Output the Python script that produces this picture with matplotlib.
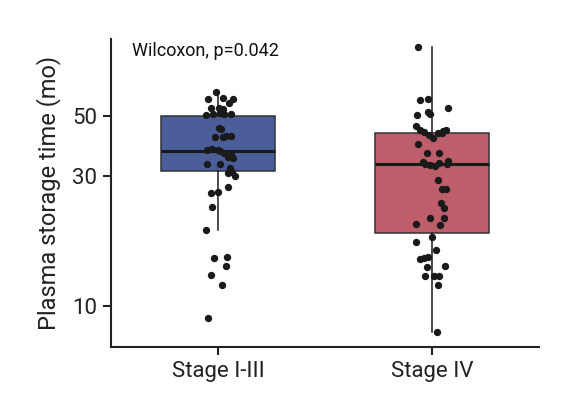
import numpy as np
import matplotlib
matplotlib.use("Agg")
import matplotlib.pyplot as plt
from matplotlib.ticker import FixedLocator, NullLocator

plt.rcParams['font.family'] = ['Roboto', 'DejaVu Sans']

# data
groups = ['Stage I-III', 'Stage IV']
colors = ['#4B5E9A', '#BD5E6A']

# box statistics (months)
q1 = [31.4, 18.5]
med = [37.2, 33.3]
q3 = [49.9, 43.3]
whislo = [19.1, 8.0]
whishi = [61.2, 89.6]

# individual samples and their horizontal jitter (category units)
stage13 = [61.2, 57.7, 58.2, 55.7, 57.7, 53.5, 53.5, 53.0, 50.4, 50.8, 51.3, 50.8, 50.8,
           45.1, 44.8, 41.8, 41.8, 42.2, 42.0,
           37.5, 37.8, 37.5, 37.1, 36.5, 35.3, 35.0, 35.9,
           33.3, 33.3, 32.2, 31.1, 30.1, 30.8,
           27.4, 26.0, 26.2, 23.1, 19.0,
           15.0, 15.1, 14.0, 13.0, 11.9, 9.0]
jit13 = [-0.01, -0.047, 0.023, 0.051, 0.07, -0.033, 0.005, 0.023, -0.056, -0.023, 0.009, 0.028, 0.061,
         0.005, 0.014, -0.014, 0.023, 0.061, 0.037,
         -0.051, -0.028, 0.0, 0.009, 0.028, 0.047, 0.07, 0.061,
         -0.051, 0.009, 0.056, 0.065, 0.079, 0.047,
         0.047, -0.033, 0.0, -0.028, -0.056,
         -0.019, 0.042, 0.037, -0.033, 0.019, -0.047]

stage4 = [89.6, 57.2, 57.7, 53.5, 50.4, 51.7, 50.8,
          45.9, 44.4, 43.6, 42.5, 41.5, 43.3, 43.3, 44.4, 44.0,
          39.4, 36.5, 36.5,
          33.8, 33.3, 33.0, 32.7, 33.6, 34.1, 33.3,
          29.0, 26.9, 26.9, 23.9, 22.9, 21.1, 21.1, 20.0, 19.9,
          17.9, 17.2, 16.1, 14.9, 15.0, 15.1, 13.9, 14.0, 12.9, 12.9, 12.9, 11.9, 8.0]
jit4 = [-0.065, -0.056, -0.019, 0.075, -0.07, -0.019, -0.009,
        -0.075, -0.056, -0.037, -0.014, 0.005, 0.028, 0.047, 0.065, 0.051,
        -0.065, -0.023, 0.033,
        -0.042, -0.033, -0.009, 0.014, 0.033, 0.075, 0.07,
        0.028, 0.047, 0.065, 0.042, 0.056, -0.009, 0.056, -0.075, 0.037,
        0.0, -0.075, 0.019, -0.056, -0.037, -0.019, -0.023, 0.061, -0.033, 0.009, 0.033, 0.028, 0.023]

fig = plt.figure(figsize=(5.74, 4.12), dpi=100)
ax = fig.add_axes([0.1934, 0.1578, 0.7456, 0.7468])

stats = []
for i, g in enumerate(groups):
    stats.append(dict(label=g, q1=q1[i], med=med[i], q3=q3[i],
                      whislo=whislo[i], whishi=whishi[i], fliers=[]))

bp = ax.bxp(stats, positions=[1, 2], widths=0.53, patch_artist=True,
            showcaps=False, showfliers=False,
            boxprops=dict(edgecolor='#333333', linewidth=1.1),
            whiskerprops=dict(color='#1a1a1a', linewidth=1.1),
            medianprops=dict(color='#1a1a1a', linewidth=2.2))
for patch, c in zip(bp['boxes'], colors):
    patch.set_facecolor(c)

for pos, vals, jit in [(1, stage13, jit13), (2, stage4, jit4)]:
    ax.scatter(pos + np.array(jit), vals, s=28, color='#1a1a1a', zorder=3, linewidths=0)

ax.set_yscale('log')
ax.set_ylim(7.07, 95.6)
ax.set_xlim(0.5, 2.5)
ax.yaxis.set_major_locator(FixedLocator([10, 30, 50]))
ax.yaxis.set_minor_locator(NullLocator())
ax.set_yticklabels(['10', '30', '50'])
ax.set_xticks([1, 2])
ax.set_xticklabels(groups)

for side in ['top', 'right']:
    ax.spines[side].set_visible(False)
for side in ['left', 'bottom']:
    ax.spines[side].set_linewidth(1.5)
    ax.spines[side].set_color('#222222')
ax.tick_params(axis='both', length=6, width=1.5, color='#222222', labelsize=16,
               labelcolor='#222222', pad=4)

ax.set_ylabel('Plasma storage time (mo)', fontsize=17, color='#222222', labelpad=8)
ax.text(0.05, 0.99, 'Wilcoxon, p=0.042', transform=ax.transAxes, fontsize=13,
        va='top', ha='left', color='#111111')

fig.savefig('out.png', dpi=100)
